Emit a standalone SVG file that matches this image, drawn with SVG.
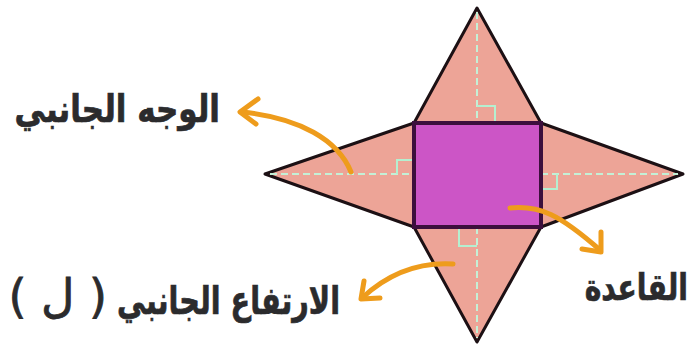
<svg xmlns="http://www.w3.org/2000/svg" width="693" height="344" viewBox="0 0 693 344">
<style>
.face{fill:#eda497;stroke:#1c1014;stroke-width:3;stroke-linejoin:round}
.base{fill:#cc55c6;stroke:#3c0f3c;stroke-width:4}
.alt{fill:none;stroke:#c4f0d6;stroke-width:2;stroke-dasharray:7 4}
.sq{fill:none;stroke:#b5efd0;stroke-width:2}
.arrow{fill:none;stroke:#ee9c1c;stroke-width:5;stroke-linecap:round;stroke-linejoin:round}
.label{font-family:"DejaVu Sans",sans-serif;font-weight:bold;font-size:31px;fill:#2b2b2d;stroke:#2b2b2d;stroke-width:.6}
.paren{font-size:46px;font-weight:normal;stroke-width:.8}
</style>
<g id="face-top"><polygon class="face" points="477,8 541,123 414,123"/><path class="alt" d="M477,12V123"/><path class="sq" d="M477,106H495V123"/></g>
<g id="face-left"><polygon class="face" points="265,174 414,123 414,227"/><path class="alt" d="M270,174H414"/><path class="sq" d="M397,174V160H414"/></g>
<g id="face-right"><polygon class="face" points="683,174 541,123 541,227"/><path class="alt" d="M541,174H678"/><path class="sq" d="M557,174V189H541"/></g>
<g id="face-bottom"><polygon class="face" points="477,342 414,227 541,227"/><path class="alt" d="M477,227V338"/><path class="sq" d="M459,227V246H477"/></g>
<g id="base"><rect class="base" x="414" y="123" width="127" height="104"/></g>
<g id="connectors">
<path class="arrow" d="M351,172C338,140 300,118 242,112"/><path class="arrow" d="M258,99L240,112L256,124"/>
<path class="arrow" d="M510,208C540,205 560,215 600,250"/><path class="arrow" d="M601,232L601,252L582,249"/>
<path class="arrow" d="M453,264C420,262 390,272 362,298"/><path class="arrow" d="M364,281L361,299L380,298"/>
</g>
<g id="label-face"><text class="label" transform="translate(220,122) scale(1,1.22)" direction="rtl" text-anchor="start">الوجه الجانبي</text></g>
<g id="label-base"><text class="label" transform="translate(688,300) scale(.91,1.2)" direction="rtl" text-anchor="start">القاعدة</text></g>
<g id="label-height"><text class="label" transform="translate(340,314) scale(.925,1.25)" direction="rtl" text-anchor="start">الارتفاع الجانبي</text><text class="label paren" x="107" y="312" direction="rtl" text-anchor="start">(  ل  )</text></g>
</svg>
